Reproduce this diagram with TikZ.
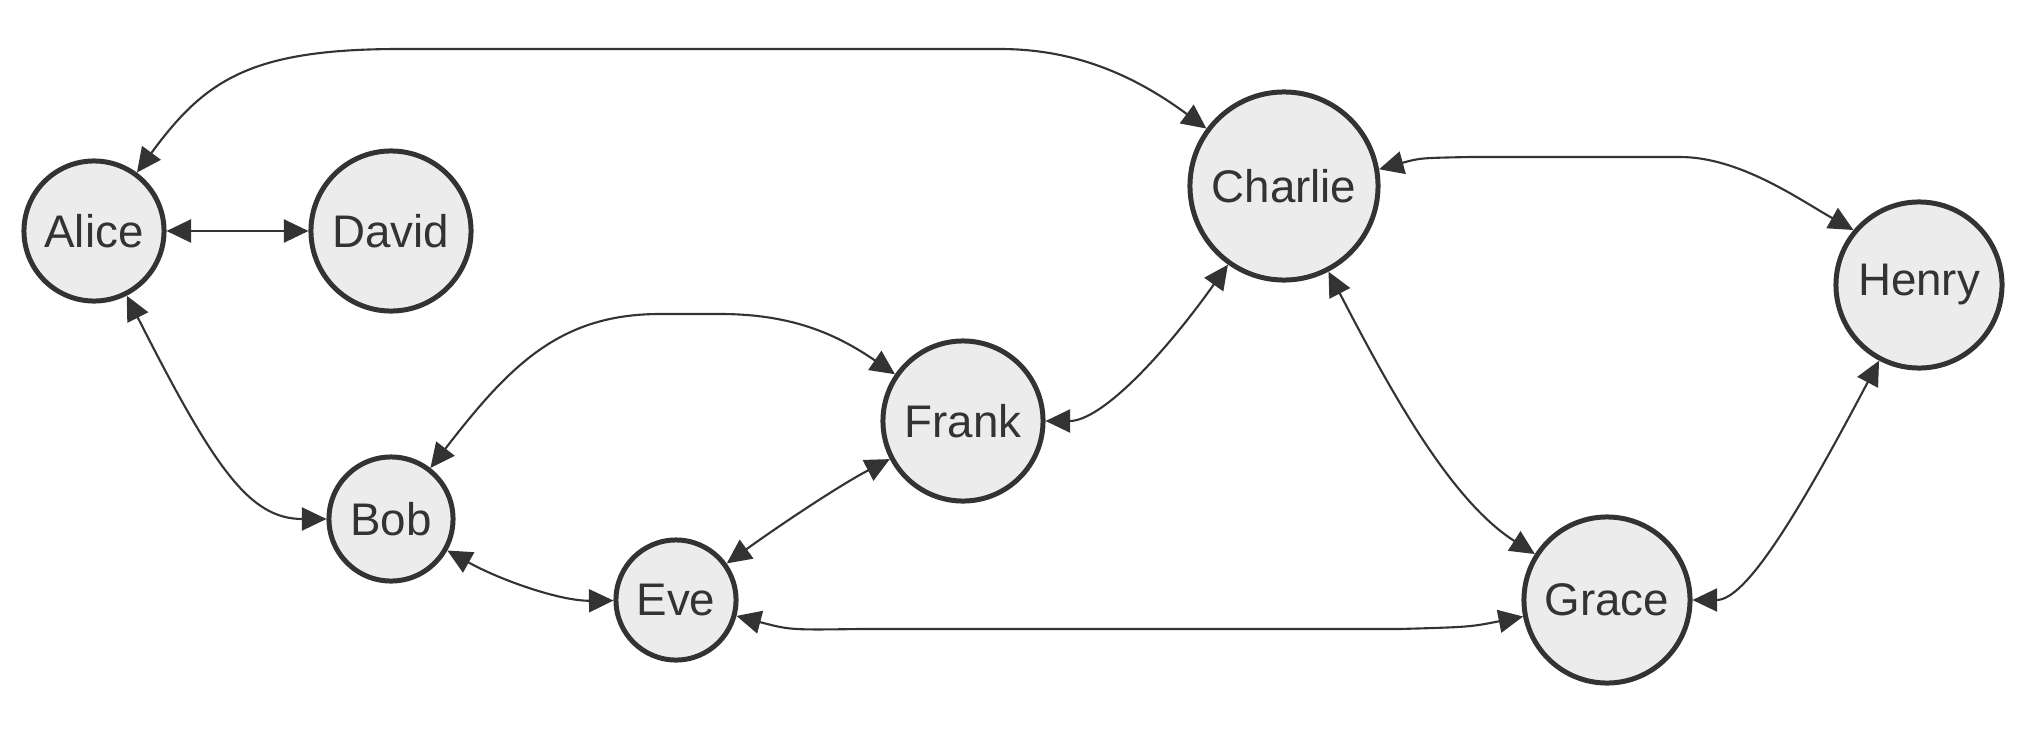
\documentclass[tikz,border=0pt]{standalone}
\usepackage{fontspec}
\setmainfont{Liberation Sans}
\usetikzlibrary{arrows.meta}
\definecolor{ink}{HTML}{333333}
\definecolor{nodefill}{HTML}{ECECEC}
\begin{document}
\begin{tikzpicture}[x=0.01cm,y=-0.01cm,
  person/.style={circle, draw=ink, fill=nodefill, line width=1.42pt, text=ink,
    font=\fontsize{13}{15}\selectfont, inner sep=0pt},
  link/.style={draw=ink, line width=0.6pt,
    {Triangle[length=0.245cm,width=0.23cm]}-{Triangle[length=0.245cm,width=0.23cm]}}]
\useasboundingbox (0,0) rectangle (2026,736);

\node[person, minimum size=1.40cm] (Alice)   at (94,231)   {Alice};
\node[person, minimum size=1.60cm] (David)   at (391,231)  {David};
\node[person, minimum size=1.24cm] (Bob)     at (391,519)  {Bob};
\node[person, minimum size=1.20cm] (Eve)     at (676,600)  {Eve};
\node[person, minimum size=1.60cm] (Frank)   at (963,421)  {Frank};
\node[person, minimum size=1.88cm] (Charlie) at (1284,186) {Charlie};
\node[person, minimum size=1.66cm] (Henry)   at (1919,285) {Henry};
\node[person, minimum size=1.66cm] (Grace)   at (1607,600) {Grace};

% Alice <-> Charlie
\draw[link] (Alice) .. controls (205,80) and (250,49) .. (400,49) -- (1000,49)
  .. controls (1070,49) and (1130,72) .. (Charlie);
% Alice <-> David
\draw[link] (Alice) -- (David);
% Alice <-> Bob
\draw[link] (Alice) .. controls (215,470) and (250,519) .. (Bob);
% Bob <-> Frank
\draw[link] (Bob) .. controls (510,365) and (560,314) .. (660,314) -- (720,314)
  .. controls (790,314) and (835,333) .. (Frank);
% Bob <-> Eve
\draw[link] (Bob) .. controls (500,580) and (560,601) .. (Eve);
% Eve <-> Frank
\draw[link] (Eve) .. controls (780,525) and (840,485) .. (Frank);
% Eve <-> Grace
\draw[link] (Eve) .. controls (790,630) .. (860,629) -- (1400,629)
  .. controls (1470,627) .. (Grace);
% Frank <-> Charlie
\draw[link] (Frank) .. controls (1100,421) and (1160,360) .. (Charlie);
% Charlie <-> Henry
\draw[link] (Charlie.10) .. controls (1420,158) .. (1470,157) -- (1680,157)
  .. controls (1740,157) and (1800,200) .. (Henry.140);
% Charlie <-> Grace
\draw[link] (Charlie) .. controls (1390,390) and (1450,500) .. (Grace);
% Grace <-> Henry
\draw[link] (Grace) .. controls (1745,600) and (1795,520) .. (Henry);
\end{tikzpicture}
\end{document}
